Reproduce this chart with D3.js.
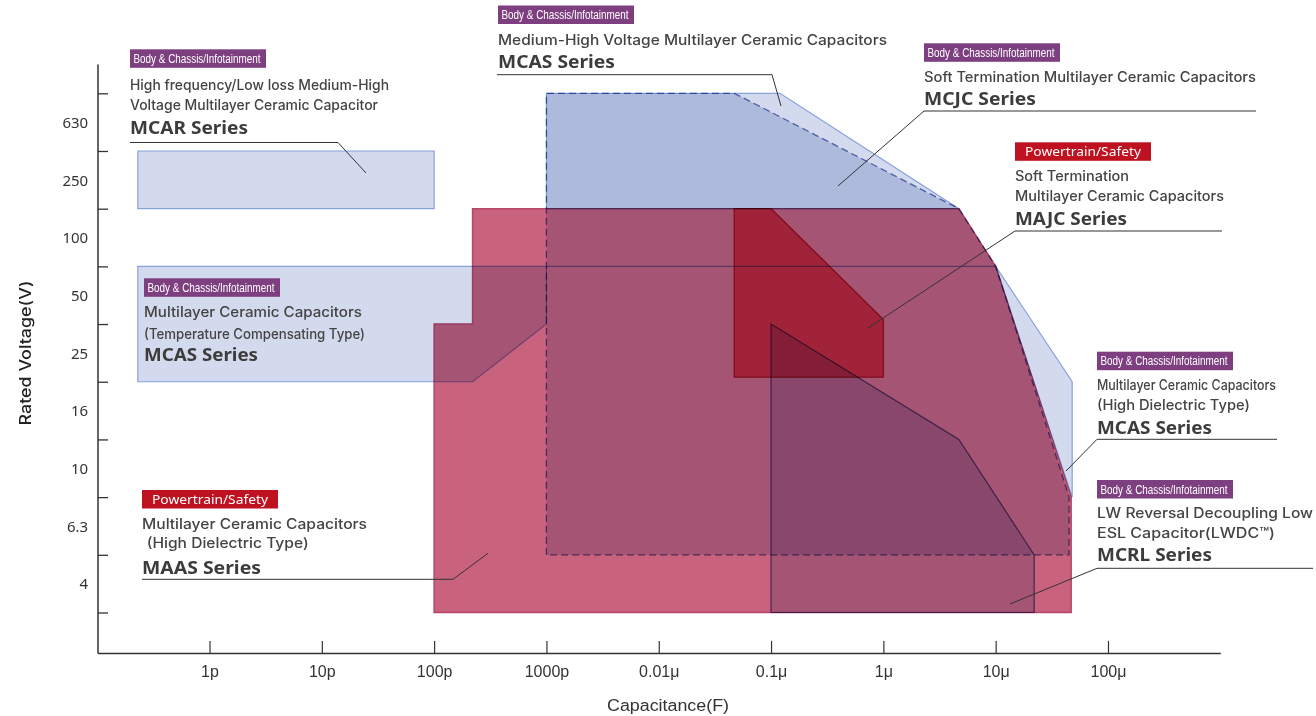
<!DOCTYPE html>
<html><head><meta charset="utf-8">
<script src="https://cdn.jsdelivr.net/npm/d3@7"></script>
<style>
body{margin:0;background:#fff;}
svg{display:block;}
</style></head><body>
<svg id="chart" width="1316" height="716"></svg>
<script>
// ---------- data ----------
const voltageLabels = ["4","6.3","10","16","25","50","100","250","630"]; // bottom -> top
const capTickValues = [1e-12,1e-11,1e-10,1e-9,1e-8,1e-7,1e-6,1e-5,1e-4];
const capTickLabels = ["1p","10p","100p","1000p","0.01μ","0.1μ","1μ","10μ","100μ"];
// polygon vertices: [capacitance (F), voltage level] ; level 0 = bottom edge of "4" band, 9 = top edge of "630" band
const mcarPoly   = [[0.23e-12,7],[100e-12,7],[100e-12,8],[0.23e-12,8]];
const mcasTcPoly = [[0.23e-12,4],[0.23e-12,6],[1000e-12,6],[1000e-12,5],[220e-12,4]];
const maasPoly   = [[100e-12,0],[100e-12,5],[220e-12,5],[220e-12,7],[4.7e-6,7],[10e-6,6],[47e-6,2],[47e-6,0]];
const mcjcPoly   = [[1000e-12,1],[1000e-12,9],[0.047e-6,9],[4.7e-6,7],[10e-6,6],[45e-6,2],[45e-6,1]];
const mcasMhPoly = [[1000e-12,7],[1000e-12,9],[0.12e-6,9],[4.7e-6,7]];
const mcasHdPoly = [[1000e-12,6],[10e-6,6],[48e-6,4],[48e-6,2],[10e-6,6]];
const majcPoly   = [[0.047e-6,4.08],[0.047e-6,7],[0.1e-6,7],[1e-6,5.08],[1e-6,4.08]];
const mcrlPoly   = [[0.1e-6,0],[0.1e-6,5],[4.7e-6,3],[22e-6,1],[22e-6,0]];

// ---------- styles ----------
const BLUE_FILL = "#d3daed", BLUE_LINE = "#88a2db";
const series = [
  {pts:mcarPoly,   fill:BLUE_FILL, stroke:BLUE_LINE, w:1.2},
  {pts:mcasTcPoly, fill:BLUE_FILL, stroke:BLUE_LINE, w:1.2},
  {pts:maasPoly,   fill:"#c9627c", stroke:"#b8466a", w:1.5},
  {pts:mcjcPoly,   fill:BLUE_FILL, stroke:"#5a6db3", w:1.3, dash:"7,4"},
  {pts:mcasMhPoly, fill:BLUE_FILL, stroke:BLUE_LINE, w:1.2},
  {pts:mcasHdPoly, fill:BLUE_FILL, stroke:BLUE_LINE, w:1.2},
  {pts:majcPoly,   fill:"#f66a81", stroke:"#c8203c", w:1.3},
  {pts:mcrlPoly,   fill:BLUE_FILL, stroke:"#5c5e9c", w:1.2}
];

const svg = d3.select("#chart");
const x = d3.scaleLog().domain([1e-13,1e-3]).range([97.2,1220.3]);
const y = d3.scaleLinear().domain([0,9]).range([612.5,93.3]);

const line = d3.line().x(d=>x(d[0])).y(d=>y(d[1]));
const gPoly = svg.append("g").style("isolation","isolate");
series.forEach(s=>{
  gPoly.append("path")
    .attr("d", line(s.pts)+"Z")
    .attr("fill", s.fill)
    .attr("stroke", s.stroke)
    .attr("stroke-width", s.w)
    .attr("stroke-dasharray", s.dash||null)
    .attr("stroke-linejoin","miter")
    .style("mix-blend-mode","multiply");
});

// ---------- axes ----------
const axisColor = "#333";
const yBottom = y(-0.7), yTop = y(9.5);
svg.append("line").attr("x1",x(1e-13)+0.8).attr("x2",x(1e-13)+0.8).attr("y1",yTop).attr("y2",yBottom)
  .attr("stroke",axisColor).attr("stroke-width",1.5);

const yTicks = svg.append("g").attr("transform",`translate(${x(1e-13)+0.8},0)`)
  .call(d3.axisLeft(y).tickValues(d3.range(0,10)).tickSize(-10).tickSizeOuter(0).tickFormat(""));
yTicks.select(".domain").remove();
yTicks.selectAll("line").attr("stroke",axisColor).attr("stroke-width",1.3);

const yLabels = svg.append("g").attr("transform",`translate(${x(1e-13)-9},0)`)
  .call(d3.axisLeft(y).tickValues(d3.range(0,9).map(i=>i+0.5)).tickSize(0).tickPadding(0)
        .tickFormat((d,i)=>voltageLabels[i]));
yLabels.select(".domain").remove();
yLabels.selectAll("text").attr("font-family","'Noto Sans', sans-serif").attr("font-size",15)
  .attr("fill","#333").attr("dy","0.35em");

const xAxis = svg.append("g").attr("transform",`translate(0,${yBottom})`)
  .call(d3.axisBottom(x).tickValues(capTickValues).tickSize(-12).tickSizeOuter(0).tickPadding(13)
        .tickFormat((d,i)=>capTickLabels[i]));
xAxis.select(".domain").attr("stroke",axisColor).attr("stroke-width",1.5);
xAxis.selectAll("line").attr("stroke",axisColor).attr("stroke-width",1.2);
xAxis.selectAll("text").attr("font-family","'Liberation Sans Narrow','Liberation Sans',sans-serif")
  .attr("font-size",16).attr("fill","#333");

svg.append("text").attr("x",668).attr("y",705).attr("text-anchor","middle").attr("dominant-baseline","central")
  .attr("font-family","'Liberation Sans Narrow','Liberation Sans',sans-serif").attr("font-size",16)
  .attr("fill","#333").attr("textLength",122).attr("lengthAdjust","spacingAndGlyphs").text("Capacitance(F)");
svg.append("text").attr("transform","translate(25,353) rotate(-90)").attr("text-anchor","middle")
  .attr("dominant-baseline","central").attr("font-family","Inter,'Noto Sans', sans-serif").attr("font-size",15.5)
  .attr("font-weight",500).attr("fill","#222").attr("textLength",145).attr("lengthAdjust","spacingAndGlyphs").text("Rated Voltage(V)");

// ---------- annotations ----------
const BODY = {text:"Body & Chassis/Infotainment", fill:"#7d3f7f", font:"'Liberation Sans Narrow','Liberation Sans',sans-serif", size:12, tw:127};
const PT   = {text:"Powertrain/Safety", fill:"#bf1220", font:"'Noto Sans',sans-serif", size:12.5, tw:116};
const notes = [
  {tag:BODY, x:130, ty:49.3, lines:[["High frequency/Low loss Medium-High",84,259],["Voltage Multilayer Ceramic Capacitor",104,248]],
   name:["MCAR Series",127.3,118], leader:[[130,142.5],[338,142.5],[366,173]]},
  {tag:BODY, x:498, ty:5.5, lines:[["Medium-High Voltage Multilayer Ceramic Capacitors",39,389]],
   name:["MCAS Series",61,117], leader:[[497,74.7],[772,74.7],[781,106]]},
  {tag:BODY, x:924, ty:43.3, lines:[["Soft Termination  Multilayer Ceramic Capacitors",76,332]],
   name:["MCJC Series",98,112], leader:[[1256,111],[924,111],[838,186]]},
  {tag:PT, x:1015, ty:142.3, lines:[["Soft Termination",175,114],["Multilayer Ceramic Capacitors",195,209]],
   name:["MAJC Series",217.7,112], leader:[[1222,231],[1015,231],[868,328]]},
  {tag:BODY, x:1097, ty:351.7, lines:[["Multilayer Ceramic Capacitors",384.3,179],["(High Dielectric Type)",404,153]],
   name:["MCAS Series",427,115], leader:[[1277,439.3],[1097,439.3],[1066,471]]},
  {tag:BODY, x:1097, ty:480, lines:[["LW Reversal Decoupling Low",512,216],["ESL Capacitor(LWDC™)",532.7,178]],
   name:["MCRL Series",554,115], leader:[[1313,568.3],[1097,568.3],[1010,604]]},
  {tag:BODY, x:144, ty:278.3, lines:[["Multilayer Ceramic Capacitors",311.7,218],["(Temperature Compensating Type)",333.3,221]],
   name:["MCAS Series",354.3,114], leader:null},
  {tag:PT, x:142, ty:490, lines:[["Multilayer Ceramic Capacitors",523.3,225],[" (High Dielectric Type)",542.7,162,146.7]],
   name:["MAAS Series",566.7,119], leader:[[142,579.3],[453,579.3],[488,553.3]]}
];
const gN = svg.append("g");
notes.forEach(n=>{
  gN.append("rect").attr("x",n.x).attr("y",n.ty).attr("width",136).attr("height",18.5).attr("fill",n.tag.fill);
  gN.append("text").attr("x",n.x+(n.tag===PT?10:3.5)).attr("y",n.ty+9.5).attr("dominant-baseline","central")
    .attr("font-family",n.tag.font).attr("font-size",n.tag.size).attr("fill","#fff")
    .attr("textLength",n.tag.tw).attr("lengthAdjust","spacingAndGlyphs").text(n.tag.text);
  n.lines.forEach(l=>{
    gN.append("text").attr("x",l[3]||n.x).attr("y",l[1]).attr("dominant-baseline","central")
      .attr("font-family","Inter,'Noto Sans',sans-serif").attr("font-size",14).attr("font-weight",500)
      .attr("fill","#444").attr("textLength",l[2]).attr("lengthAdjust","spacingAndGlyphs")
      .text(l[0].trim());
  });
  gN.append("text").attr("x",n.x).attr("y",n.name[1]).attr("dominant-baseline","central")
    .attr("font-family","'Noto Sans',sans-serif").attr("font-size",18).attr("font-weight",700)
    .attr("fill","#3c3c3c").attr("textLength",n.name[2]).attr("lengthAdjust","spacingAndGlyphs").text(n.name[0]);
  if(n.leader){
    gN.append("path").attr("d",d3.line()(n.leader)).attr("fill","none").attr("stroke","#333").attr("stroke-width",1);
  }
});
</script>
</body></html>
